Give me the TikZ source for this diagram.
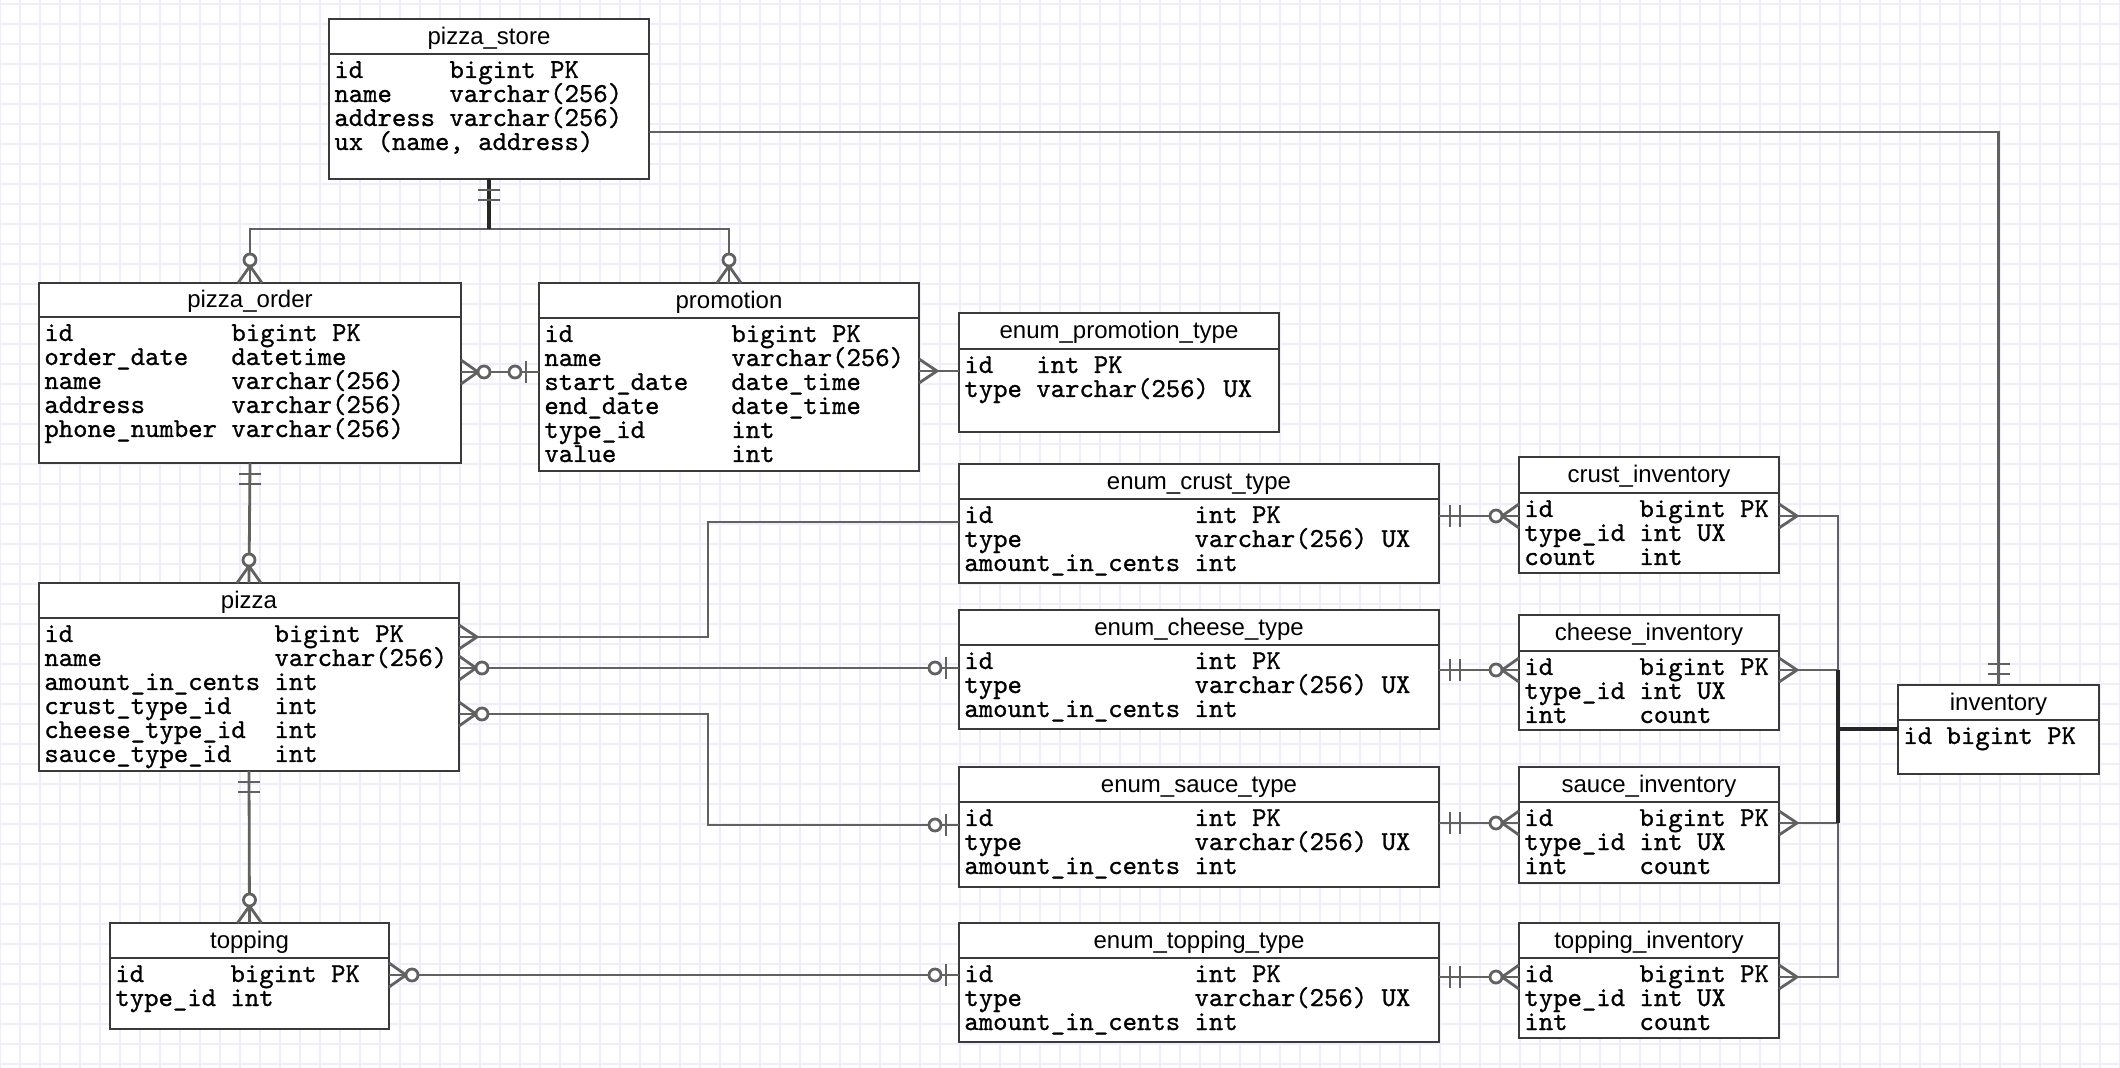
\documentclass[tikz,border=0pt]{standalone}
\usepackage{fontspec}
\newfontfamily\titlefont{Liberation Sans}
% typewriter face for the field lists, slightly heavier than regular
\newfontfamily\fieldfont{lmmono10-regular.otf}[FakeBold=0.9]
\usetikzlibrary{calc}

% one character cell of the field font (12pt Courier cell = 7.2pt)
\newdimen\cw
\newcommand\fieldsize{\fontsize{13.7}{13.7}\selectfont}
\settowidth\cw{\fieldfont\fieldsize 0}
% a field: name padded to #1 characters, then its type
\newcommand\fld[3]{\makebox[#1\cw][l]{#2}#3}

\definecolor{gridc}{HTML}{EDEDFB}
\definecolor{boxc}{HTML}{3A3A3A}

\tikzset{
  gridline/.style={draw=gridc, line width=0.6pt},
  tbl/.style={draw=boxc, line width=1.3pt, fill=white, rectangle, inner sep=0pt, outer sep=0pt},
  tblline/.style={draw=boxc, line width=1.3pt},
  ttl/.style={font=\titlefont\fontsize{12}{12}\selectfont, inner sep=0pt, anchor=base},
  fldtxt/.style={font=\fieldfont\fieldsize, inner sep=0pt, anchor=base west},
  rel/.style={draw=black!62, line width=1.4pt},
  reldark/.style={draw=black!85, line width=2pt},
  endmk/.style={draw=black!62, line width=1.4pt},
  % crow's foot endings, drawn outward from an entity edge along +x
  crowmany/.pic={\draw[endmk] (0,-12) -- (18,0) -- (0,12);},
  crowzm/.pic={\draw[endmk] (0,-12) -- (17,0) -- (0,12);
               \draw[endmk, fill=white] (23,0) circle[radius=6];},
  barzo/.pic={\draw[endmk] (13,-11) -- (13,11);
              \draw[endmk, fill=white] (24,0) circle[radius=6];},
  barone/.pic={\draw[endmk] (11,-11) -- (11,11) (21,-11) -- (21,11);},
}

% entity table: #1 name, #2 left, #3 top, #4 right, #5 bottom, #6 header line, #7 title, #8 fields
\newcommand\ertable[8]{%
  \node[tbl, anchor=north west, minimum width={(#4-#2)*0.5pt},
        minimum height={(#5-#3)*0.5pt}] (#1) at (#2,#3) {};
  \draw[tblline] (#2,#6) -- (#4,#6);
  \node[ttl] (#1-title) at ({(#2+#4)/2},{(#3+#6)/2+8}) {#7};
  \foreach \r [count=\i from 0] in {#8}
    \node[fldtxt] (#1-f\i) at (#2+5,#6+24+24*\i) {\r};
}

\begin{document}
\begin{tikzpicture}[x=0.5pt, y=-0.5pt]
  \fill[white] (0,0) rectangle (2120,1068);
  \useasboundingbox (0,0) rectangle (2120,1068);
  \foreach \gx in {0,20,...,2120} \draw[gridline] (\gx,0) -- (\gx,1068);
  \foreach \gy in {4,24,...,1068} \draw[gridline] (0,\gy) -- (2120,\gy);

  % ---------- entities ----------
  \ertable{store}{329}{19}{649}{179}{54}{pizza\_store}{%
    \fld{8}{id}{bigint PK}, \fld{8}{name}{varchar(256)},
    \fld{8}{address}{varchar(256)}, {ux (name, address)}}
  \ertable{order}{39}{283}{461}{463}{317}{pizza\_order}{%
    \fld{13}{id}{bigint PK}, \fld{13}{order\_date}{datetime},
    \fld{13}{name}{varchar(256)}, \fld{13}{address}{varchar(256)},
    \fld{13}{phone\_number}{varchar(256)}}
  \ertable{promo}{539}{283}{919}{471}{318}{promotion}{%
    \fld{13}{id}{bigint PK}, \fld{13}{name}{varchar(256)},
    \fld{13}{start\_date}{date\_time}, \fld{13}{end\_date}{date\_time},
    \fld{13}{type\_id}{int}, \fld{13}{value}{int}}
  \ertable{promotype}{959}{313}{1279}{432}{349}{enum\_promotion\_type}{%
    \fld{5}{id}{int PK}, \fld{5}{type}{varchar(256) UX}}
  \ertable{pizza}{39}{583}{459}{771}{618}{pizza}{%
    \fld{16}{id}{bigint PK}, \fld{16}{name}{varchar(256)},
    \fld{16}{amount\_in\_cents}{int}, \fld{16}{crust\_type\_id}{int},
    \fld{16}{cheese\_type\_id}{int}, \fld{16}{sauce\_type\_id}{int}}
  \ertable{topping}{110}{923}{389}{1029}{958}{topping}{%
    \fld{8}{id}{bigint PK}, \fld{8}{type\_id}{int}}

  \ertable{ecrust}{959}{464}{1439}{583}{499}{enum\_crust\_type}{%
    \fld{16}{id}{int PK}, \fld{16}{type}{varchar(256) UX}, \fld{16}{amount\_in\_cents}{int}}
  \ertable{echeese}{959}{610}{1439}{729}{645}{enum\_cheese\_type}{%
    \fld{16}{id}{int PK}, \fld{16}{type}{varchar(256) UX}, \fld{16}{amount\_in\_cents}{int}}
  \ertable{esauce}{959}{767}{1439}{887}{802}{enum\_sauce\_type}{%
    \fld{16}{id}{int PK}, \fld{16}{type}{varchar(256) UX}, \fld{16}{amount\_in\_cents}{int}}
  \ertable{etopping}{959}{923}{1439}{1042}{958}{enum\_topping\_type}{%
    \fld{16}{id}{int PK}, \fld{16}{type}{varchar(256) UX}, \fld{16}{amount\_in\_cents}{int}}

  \ertable{icrust}{1519}{457}{1779}{573}{493}{crust\_inventory}{%
    \fld{8}{id}{bigint PK}, \fld{8}{type\_id}{int UX}, \fld{8}{count}{int}}
  \ertable{icheese}{1519}{615}{1779}{730}{651}{cheese\_inventory}{%
    \fld{8}{id}{bigint PK}, \fld{8}{type\_id}{int UX}, \fld{8}{int}{count}}
  \ertable{isauce}{1519}{767}{1779}{883}{802}{sauce\_inventory}{%
    \fld{8}{id}{bigint PK}, \fld{8}{type\_id}{int UX}, \fld{8}{int}{count}}
  \ertable{itopping}{1519}{923}{1779}{1038}{958}{topping\_inventory}{%
    \fld{8}{id}{bigint PK}, \fld{8}{type\_id}{int UX}, \fld{8}{int}{count}}

  \ertable{inv}{1898}{685}{2099}{774}{720}{inventory}{{id bigint PK}}

  % ---------- relationships ----------
  % pizza_store -> pizza_order, promotion
  \coordinate (storej) at (store.south |- 0,229);
  \draw[rel] (storej) -| (order.north);
  \draw[rel] (storej) -| (promo.north);
  \draw[reldark] (store.south) -- (storej);
  \pic[rotate=-90] at (store.south) {barone};
  \pic[rotate=90] at (order.north) {crowzm};
  \pic[rotate=90] at (promo.north) {crowzm};

  % pizza_order -> promotion
  \draw[rel] (order.east |- 0,372) -- (promo.west |- 0,372);
  \pic at (order.east |- 0,372) {crowzm};
  \pic[rotate=180] at (promo.west |- 0,372) {barzo};

  % promotion -> enum_promotion_type
  \draw[rel] (promo.east |- 0,371) -- (promotype.west |- 0,371);
  \pic at (promo.east |- 0,371) {crowmany};

  % pizza_order -> pizza
  \draw[rel] (order.south) -- (pizza.north);
  \pic[rotate=-90] at (order.south) {barone};
  \pic[rotate=90] at (pizza.north) {crowzm};

  % pizza -> topping
  \draw[rel] (pizza.south) -- (topping.north);
  \pic[rotate=-90] at (pizza.south) {barone};
  \pic[rotate=90] at (topping.north) {crowzm};

  % topping -> enum_topping_type
  \draw[rel] (topping.east |- 0,975) -- (etopping.west |- 0,975);
  \pic at (topping.east |- 0,975) {crowzm};
  \pic[rotate=180] at (etopping.west |- 0,975) {barzo};

  % pizza -> enum_crust_type / enum_cheese_type / enum_sauce_type
  \coordinate (crustbend) at (708,580);
  \coordinate (saucebend) at (708,770);
  \draw[rel] (pizza.east |- 0,637) -| (crustbend) |- (ecrust.west |- 0,522);
  \pic at (pizza.east |- 0,637) {crowmany};
  \draw[rel] (pizza.east |- 0,668) -- (echeese.west |- 0,668);
  \pic at (pizza.east |- 0,668) {crowzm};
  \pic[rotate=180] at (echeese.west |- 0,668) {barzo};
  \draw[rel] (pizza.east |- 0,714) -| (saucebend) |- (esauce.west |- 0,825);
  \pic at (pizza.east |- 0,714) {crowzm};
  \pic[rotate=180] at (esauce.west |- 0,825) {barzo};

  % enum types -> inventories
  \foreach \e/\i/\yy in {ecrust/icrust/516, echeese/icheese/670, esauce/isauce/823, etopping/itopping/977}{
    \draw[rel] (\e.east |- 0,\yy) -- (\i.west |- 0,\yy);
    \pic at (\e.east |- 0,\yy) {barone};
    \pic[rotate=180] at (\i.west |- 0,\yy) {crowzm};
  }

  % inventories -> inventory (shared bus, darker where the lines overlap)
  \coordinate (busj) at (1838,729);
  \foreach \i/\yy in {icrust/516, icheese/670, isauce/823, itopping/977}{
    \draw[rel] (\i.east |- 0,\yy) -| (busj) -- (inv.west |- busj);
    \pic at (\i.east |- 0,\yy) {crowmany};
  }
  \draw[reldark] (busj |- 0,670) -- (busj |- 0,823);
  \draw[reldark, line width=2.4pt] (busj) -- (inv.west |- busj);

  % pizza_store -> inventory
  \draw[rel] (store.east |- 0,132) -| (inv.north);
  \pic[rotate=90] at (inv.north) {barone};
\end{tikzpicture}
\end{document}
